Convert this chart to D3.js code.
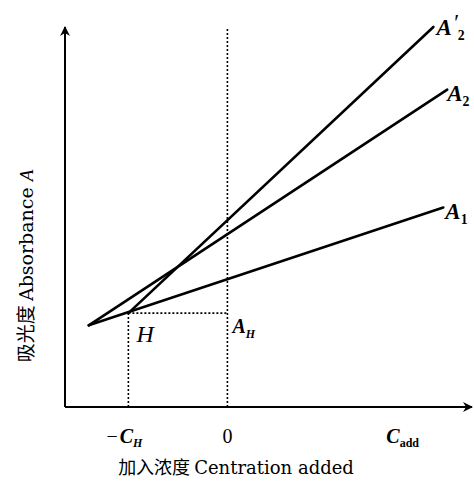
<!DOCTYPE html>
<html>
<head>
<meta charset="utf-8">
<script src="https://cdn.jsdelivr.net/npm/d3@7"></script>
<style>
  body { margin: 0; background: #fff; }
  text { fill: #000; }
</style>
</head>
<body>
<div id="chart"></div>
<script>
var svgWidth = 474;
var svgHeight = 485;

// values (arbitrary units)
var xDomain = [-1.64, 2.47];
var yDomain = [0, 1.0];
var origin = [-1.4, 0.215];     // shared start of A1 and A2
var pointH = [-1, 0.247];       // H, start of A'2
var lineNames = [["A", "", "1"], ["A", "", "2"], ["A", "′", "2"]];
var lineStarts = [origin, origin, pointH];
var lineEnds = [[2.18, 0.525], [2.22, 0.835], [2.08, 1.0]];
var tickValues = [-1, 0, 1.75];
var tickLabels = [["−", "C", "H"], ["", "0", ""], ["", "C", "add"]];

var svg = d3.select("#chart")
  .append("svg")
  .attr("width", svgWidth)
  .attr("height", svgHeight);

var x = d3.scaleLinear().domain(xDomain).range([65, 472]);
var y = d3.scaleLinear().domain(yDomain).range([407, 27]);

// arrow heads
var defs = svg.append("defs");
defs.append("marker")
  .attr("id", "arrow")
  .attr("viewBox", "0 0 10 10")
  .attr("refX", 9)
  .attr("refY", 5)
  .attr("markerUnits", "userSpaceOnUse")
  .attr("markerWidth", 12)
  .attr("markerHeight", 10)
  .attr("orient", "auto")
  .append("path")
  .attr("d", "M0,0 L10,5 L0,10 L3,5 Z")
  .attr("fill", "#000");

// axes
svg.append("line")
  .attr("x1", x(xDomain[0])).attr("y1", y(0))
  .attr("x2", x(xDomain[1])).attr("y2", y(0))
  .attr("stroke", "#000").attr("stroke-width", 2)
  .attr("marker-end", "url(#arrow)");

svg.append("line")
  .attr("x1", x(xDomain[0])).attr("y1", y(0))
  .attr("x2", x(xDomain[0])).attr("y2", y(yDomain[1]))
  .attr("stroke", "#000").attr("stroke-width", 2)
  .attr("marker-end", "url(#arrow)");

// dotted guides
var dotted = [
  [[0, 0], [0, yDomain[1] * 0.995]],
  [[pointH[0], 0], pointH],
  [pointH, [0, pointH[1]]]
];
svg.selectAll("line.guide")
  .data(dotted)
  .enter()
  .append("line")
  .attr("class", "guide")
  .attr("x1", d => x(d[0][0])).attr("y1", d => y(d[0][1]))
  .attr("x2", d => x(d[1][0])).attr("y2", d => y(d[1][1]))
  .attr("stroke", "#000")
  .attr("stroke-width", 1.6)
  .attr("stroke-dasharray", "2,2");

// the three lines
svg.selectAll("line.series")
  .data(lineStarts)
  .enter()
  .append("line")
  .attr("class", "series")
  .attr("x1", d => x(d[0])).attr("y1", d => y(d[1]))
  .attr("x2", (d, i) => x(lineEnds[i][0])).attr("y2", (d, i) => y(lineEnds[i][1]))
  .attr("stroke", "#000")
  .attr("stroke-width", 2.6)
  .attr("stroke-linecap", "round");

// italic label with optional prime and subscript
function label(px, py, main, prime, sub, size, subItalic) {
  var t = svg.append("text")
    .attr("x", px).attr("y", py)
    .style("font-family", "'Liberation Serif', serif")
    .style("font-style", "italic")
    .style("font-weight", "bold")
    .style("font-size", size + "px");
  t.append("tspan").text(main);
  if (prime) t.append("tspan").attr("dy", -5).attr("dx", 1).style("font-weight", "normal").text(prime);
  if (sub) t.append("tspan")
    .attr("dy", prime ? 10 : 5)
    .style("font-style", subItalic ? "italic" : "normal")
    .style("font-size", (size * 0.6) + "px")
    .text(sub);
  return t;
}

var labelOffsets = [[2, 11], [0, 11], [3, 8]];
lineNames.forEach(function (n, i) {
  label(x(lineEnds[i][0]) + labelOffsets[i][0], y(lineEnds[i][1]) + labelOffsets[i][1],
    n[0], n[1], n[2], 23, false);
});

label(x(pointH[0]) + 8, y(pointH[1]) + 29, "H", "", "", 24, false).style("font-weight", "normal");
label(x(0) + 5, y(pointH[1]) + 20, "A", "", "H", 20, true);

// x tick labels
tickValues.forEach(function (v, i) {
  var t = svg.append("text")
    .attr("x", x(v))
    .attr("y", 443)
    .attr("text-anchor", "middle")
    .style("font-family", "'Liberation Serif', serif")
    .style("font-size", "20px");
  if (tickLabels[i][0]) t.append("tspan").attr("dx", -4).text(tickLabels[i][0]);
  if (tickLabels[i][2]) {
    t.append("tspan").attr("dx", 2).style("font-style", "italic").style("font-weight", "bold")
      .text(tickLabels[i][1]);
    t.append("tspan").attr("dy", 4).style("font-size", "12px").style("font-weight", "bold")
      .style("font-style", tickLabels[i][2] === "H" ? "italic" : "normal")
      .text(tickLabels[i][2]);
  } else {
    t.append("tspan").text(tickLabels[i][1]);
  }
});

// axis titles
var xt = svg.append("text")
  .attr("x", 236)
  .attr("y", 474)
  .attr("text-anchor", "middle")
  .style("font-size", "18px");
xt.append("tspan").style("font-family", "'Noto Sans CJK SC'").text("加入浓度 ");
xt.append("tspan").style("font-family", "'DejaVu Serif', serif").text("Centration added");

var yt = svg.append("text")
  .attr("transform", "translate(33, 266) rotate(-90)")
  .attr("text-anchor", "middle")
  .style("font-size", "19px");
yt.append("tspan").style("font-family", "'Noto Sans CJK SC'").text("吸光度 ");
yt.append("tspan").style("font-family", "'DejaVu Serif', serif").text("Absorbance ");
yt.append("tspan").style("font-family", "'Liberation Serif', serif").style("font-style", "italic").text("A");
</script>
</body>
</html>
